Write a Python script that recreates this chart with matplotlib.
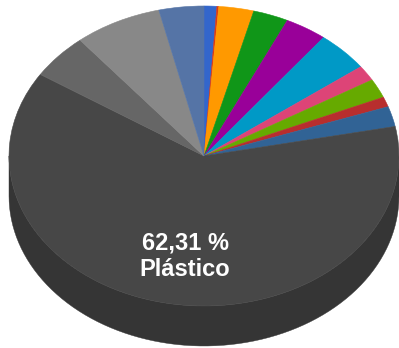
import numpy as np
import matplotlib
matplotlib.use("Agg")
import matplotlib.pyplot as plt
from matplotlib.colors import to_rgb

# slices, clockwise from 12 o'clock
values = [1.06, 0.15, 2.90, 2.92, 3.47, 4.36, 1.67, 2.06, 1.08, 2.17,
          62.31, 4.89, 7.24, 3.72]
colors = ["#3366cc", "#dc3912", "#ff9900", "#109618", "#990099", "#0099c6",
          "#dd4477", "#66aa00", "#b82e2e", "#316395",
          "#474747", "#666666", "#888888", "#5574a6"]
label_idx = 10
label_text = "62,31 %\nPlástico"

W, H = 399, 348
cx, cy = 204, 156          # pixel centre of top ellipse
rx, ry = 195, 150          # pixel radii
depth = 40 / ry            # side height in y units

fig = plt.figure(figsize=(W / 100, H / 100), dpi=100)
ax = fig.add_axes([0, 0, 1, 1])

wedges, _ = ax.pie(values, colors=colors, startangle=90, counterclock=False,
                   radius=1, center=(0, 0), frame=True,
                   wedgeprops=dict(linewidth=0.4, zorder=3))
for w, c in zip(wedges, colors):
    w.set_edgecolor(c)

# side of the cylinder, front half only (angles 180..360)
for w, c in zip(wedges, colors):
    t1, t2 = w.theta1 % 360, w.theta2 % 360
    if t2 <= t1:
        t2 += 360
    for off in (0, 360, -360):
        a = max(t1 + off, 180)
        b = min(t2 + off, 360)
        if b > a:
            t = np.radians(np.linspace(a, b, 80))
            xs = np.cos(t)
            ys = np.sin(t)
            side = 0.75 * np.array(to_rgb(c))
            ax.fill(np.r_[xs, xs[::-1]], np.r_[ys, ys[::-1] - depth],
                    color=side, lw=0.3, ec=side, zorder=2)

# label inside the big slice
w = wedges[label_idx]
mid = np.radians((w.theta1 + w.theta2) / 2)
ax.text(0.68 * np.cos(mid) + 0.03, 0.68 * np.sin(mid), label_text,
        ha="center", va="center", color="white", fontsize=17,
        fontweight="bold", family="Liberation Sans", linespacing=1.15,
        zorder=5)

ax.set_aspect("auto")
ax.set_xlim(-cx / rx, (W - cx) / rx)
ax.set_ylim((cy - H) / ry, cy / ry)
ax.axis("off")

fig.savefig("out.png", dpi=100)
